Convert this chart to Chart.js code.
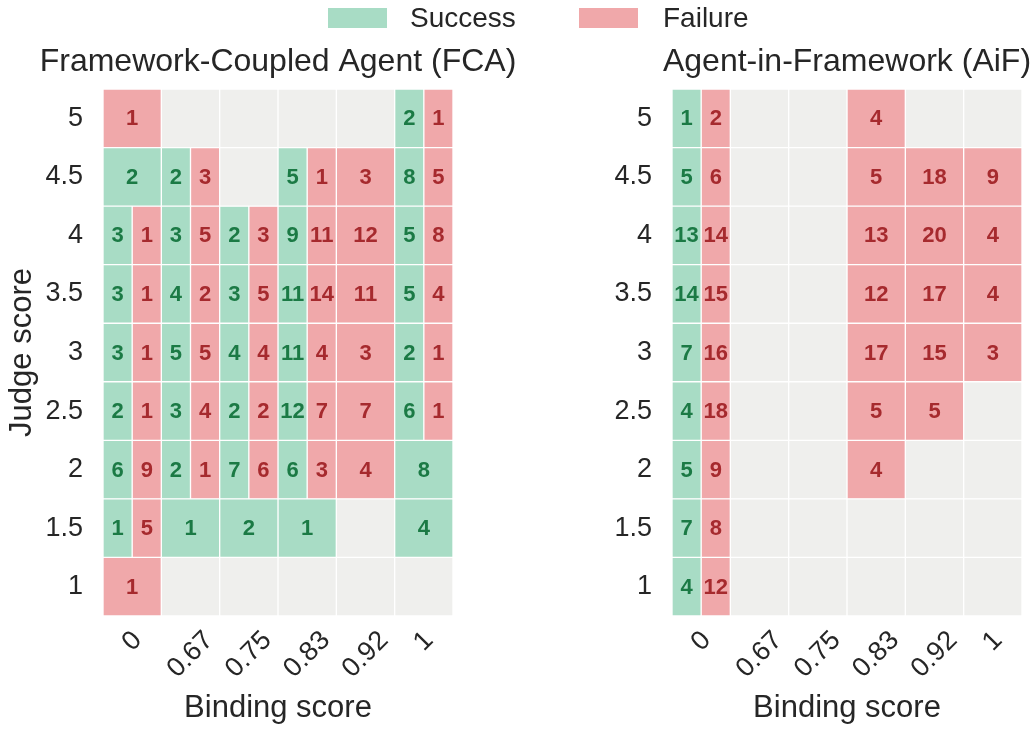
<!DOCTYPE html>
<html>
<head>
<meta charset="utf-8">
<script src="https://cdn.jsdelivr.net/npm/chart.js@4.4.1/dist/chart.umd.min.js"></script>
<style>
  body { margin: 0; background: #fff; width: 1036px; height: 731px; position: relative; overflow: hidden;
         font-family: "Liberation Sans", Arial, sans-serif; color: #262626; }
  #left { position: absolute; left: 0; top: 0; }
  #right { position: absolute; left: 520px; top: 0; }
  .box { position: absolute; top: 8px; width: 59px; height: 20px; }
  .lbl { position: absolute; top: 0; font-size: 28px; line-height: 36px; }
</style>
</head>
<body>
<canvas id="left" width="518" height="731"></canvas>
<canvas id="right" width="516" height="731"></canvas>
<div class="box" style="left:328px;background:#a8dcc5"></div>
<div class="lbl" style="left:410px">Success</div>
<div class="box" style="left:579px;background:#f0a8aa"></div>
<div class="lbl" style="left:663px">Failure</div>
<script>
const judgeScores = ['5', '4.5', '4', '3.5', '3', '2.5', '2', '1.5', '1']
const bindingScores = ['0', '0.67', '0.75', '0.83', '0.92', '1']

// rows: judge score 5 -> 1, columns: binding score 0 -> 1
const fcaSuccess = [
  [0, 0, 0, 0, 0, 2],
  [2, 2, 0, 5, 0, 8],
  [3, 3, 2, 9, 0, 5],
  [3, 4, 3, 11, 0, 5],
  [3, 5, 4, 11, 0, 2],
  [2, 3, 2, 12, 0, 6],
  [6, 2, 7, 6, 0, 8],
  [1, 1, 2, 1, 0, 4],
  [0, 0, 0, 0, 0, 0]
]
const fcaFailure = [
  [1, 0, 0, 0, 0, 1],
  [0, 3, 0, 1, 3, 5],
  [1, 5, 3, 11, 12, 8],
  [1, 2, 5, 14, 11, 4],
  [1, 5, 4, 4, 3, 1],
  [1, 4, 2, 7, 7, 1],
  [9, 1, 6, 3, 4, 0],
  [5, 0, 0, 0, 0, 0],
  [1, 0, 0, 0, 0, 0]
]
const aifSuccess = [
  [1, 0, 0, 0, 0, 0],
  [5, 0, 0, 0, 0, 0],
  [13, 0, 0, 0, 0, 0],
  [14, 0, 0, 0, 0, 0],
  [7, 0, 0, 0, 0, 0],
  [4, 0, 0, 0, 0, 0],
  [5, 0, 0, 0, 0, 0],
  [7, 0, 0, 0, 0, 0],
  [4, 0, 0, 0, 0, 0]
]
const aifFailure = [
  [2, 0, 0, 4, 0, 0],
  [6, 0, 0, 5, 18, 9],
  [14, 0, 0, 13, 20, 4],
  [15, 0, 0, 12, 17, 4],
  [16, 0, 0, 17, 15, 3],
  [18, 0, 0, 5, 5, 0],
  [9, 0, 0, 4, 0, 0],
  [8, 0, 0, 0, 0, 0],
  [12, 0, 0, 0, 0, 0]
]

const GREEN = '#a8dcc5'
const RED = '#f0a8aa'
const GRAY = '#efefed'
const GREEN_TEXT = '#1b7a45'
const RED_TEXT = '#a62a2e'
const TEXT = '#262626'
const FONT = '"Liberation Sans", Arial, sans-serif'

Chart.defaults.font.family = FONT
Chart.defaults.color = TEXT

// each cell: halves when both success and failure exist, full width otherwise
function buildDatasets(succ, fail) {
  let sets = []
  bindingScores.forEach((b, c) => {
    let s = succ.map(r => r[c])
    let f = fail.map(r => r[c])
    sets.push({
      kind: 'empty', counts: [], backgroundColor: GRAY,
      data: judgeScores.map((j, r) => (s[r] || f[r]) ? null : [c, c + 1])
    })
    sets.push({
      kind: 'success', counts: s, backgroundColor: GREEN,
      data: judgeScores.map((j, r) => s[r] ? [c, f[r] ? c + 0.5 : c + 1] : null)
    })
    sets.push({
      kind: 'failure', counts: f, backgroundColor: RED,
      data: judgeScores.map((j, r) => f[r] ? [s[r] ? c + 0.5 : c, c + 1] : null)
    })
  })
  return sets.map(d => Object.assign(d, {
    borderColor: '#fff', borderWidth: 1, borderSkipped: false,
    grouped: false, barPercentage: 1, categoryPercentage: 1
  }))
}

const cellLabels = {
  id: 'cellLabels',
  afterDatasetsDraw(chart) {
    let ctx = chart.ctx
    ctx.save()
    ctx.font = 'bold 22px ' + FONT
    ctx.textAlign = 'center'
    ctx.textBaseline = 'middle'
    chart.data.datasets.forEach((ds, i) => {
      if (ds.kind === 'empty') return
      chart.getDatasetMeta(i).data.forEach((bar, r) => {
        let v = ds.counts[r]
        if (!v) return
        let p = bar.getProps(['x', 'y', 'base'], true)
        ctx.fillStyle = ds.kind === 'success' ? GREEN_TEXT : RED_TEXT
        ctx.fillText(String(v), (p.x + p.base) / 2, p.y + 1)
      })
    })
    ctx.restore()
  }
}

// rotated binding-score labels, centred under each column
const bindingTicks = {
  id: 'bindingTicks',
  afterDraw(chart) {
    let xs = chart.scales.x
    let ctx = chart.ctx
    let size = 27
    ctx.save()
    ctx.font = size + 'px ' + FONT
    ctx.fillStyle = TEXT
    ctx.textAlign = 'center'
    ctx.textBaseline = 'middle'
    let top = chart.chartArea.bottom + 13
    bindingScores.forEach((lab, i) => {
      let w = ctx.measureText(lab).width
      let cx = xs.getPixelForValue(i + 0.5)
      let cy = top + (w + size * 0.75) / (2 * Math.SQRT2)
      ctx.save()
      ctx.translate(cx, cy)
      ctx.rotate(-Math.PI / 4)
      ctx.fillText(lab, 0, 0)
      ctx.restore()
    })
    ctx.restore()
  }
}

// panel title centred over the plot area
const panelTitle = {
  id: 'panelTitle',
  afterDraw(chart, args, opts) {
    let ctx = chart.ctx
    let area = chart.chartArea
    ctx.save()
    ctx.font = '32px ' + FONT
    ctx.fillStyle = TEXT
    ctx.textAlign = 'center'
    ctx.textBaseline = 'middle'
    ctx.fillText(opts.text, (area.left + area.right) / 2, 62)
    ctx.restore()
  }
}

function makeChart(id, title, succ, fail, showYTitle, padLeft, yWidth, padRight) {
  return new Chart(document.getElementById(id), {
    type: 'bar',
    data: { labels: judgeScores, datasets: buildDatasets(succ, fail) },
    plugins: [cellLabels, bindingTicks, panelTitle],
    options: {
      indexAxis: 'y',
      responsive: false,
      animation: false,
      layout: { padding: { left: padLeft, right: padRight, top: 89, bottom: 0 } },
      plugins: { legend: { display: false }, tooltip: { enabled: false }, panelTitle: { text: title } },
      scales: {
        x: {
          type: 'linear', position: 'bottom', min: 0, max: 6,
          grid: { display: false }, border: { display: false }, ticks: { display: false },
          title: { display: true, text: 'Binding score', color: TEXT, font: { size: 31 }, padding: { top: 0, bottom: 4 } },
          afterFit(s) { s.height = 115 }
        },
        y: {
          type: 'category',
          grid: { display: false }, border: { display: false },
          ticks: { color: TEXT, font: { size: 27 }, padding: 12 },
          title: { display: showYTitle, text: 'Judge score', color: TEXT, font: { size: 31 }, padding: { top: 4, bottom: 0 } },
          afterFit(s) { s.width = yWidth }
        }
      }
    }
  })
}

makeChart('left', 'Framework-Coupled Agent (FCA)', fcaSuccess, fcaFailure, true, 0, 103, 65)
makeChart('right', 'Agent-in-Framework (AiF)', aifSuccess, aifFailure, false, 40, 112, 14)
</script>
</body>
</html>
